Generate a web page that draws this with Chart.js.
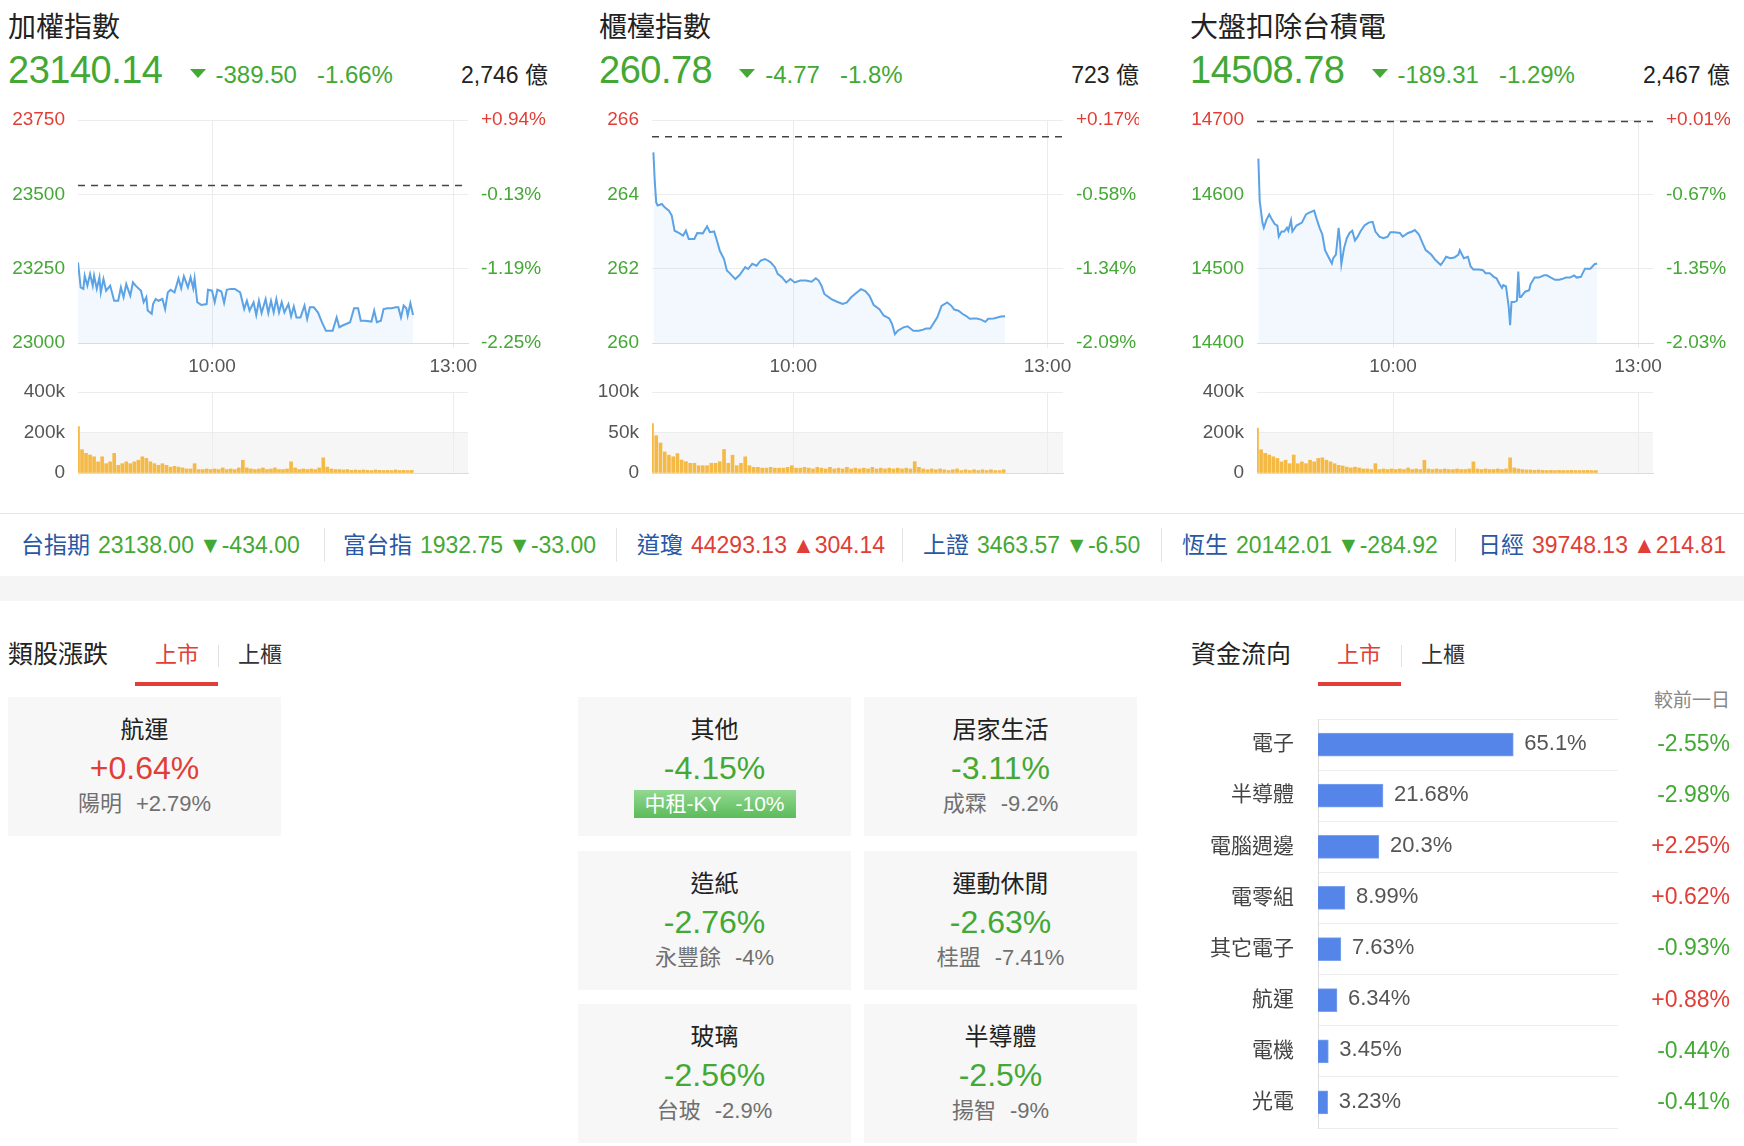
<!DOCTYPE html>
<html lang="zh-Hant">
<head>
<meta charset="utf-8">
<title>大盤走勢</title>
<script src="https://cdn.jsdelivr.net/npm/chart.js@4.4.1/dist/chart.umd.min.js"></script>
<style>
html, body { margin: 0; padding: 0; background: #fff; }
body { position: relative; width: 1744px; height: 1146px; overflow: hidden;
  font-family: "Liberation Sans", "Noto Sans CJK TC", sans-serif; color: #222; }
.abs { position: absolute; }
canvas { position: absolute; }
.green { color: #43a834; }
.red { color: #e03e36; }
.title { position: absolute; left: 0; top: 14px; font-size: 28px; line-height: 28px; white-space: nowrap; }
.quote { position: absolute; left: 0; top: 48px; width: 540px; height: 44px; display: flex; align-items: baseline; white-space: nowrap; }
.quote .big { font-size: 38px; line-height: 44px; letter-spacing: -0.5px; }
.quote .tri { align-self: flex-start; width: 0; height: 0; margin: 21px 0 0 27px;
  border-left: 8px solid transparent; border-right: 8px solid transparent; border-top: 9px solid #43a834; }
.quote .chg { font-size: 24px; margin-left: 10px; }
.quote .pct { font-size: 24px; margin-left: 20px; }
.quote .amt { font-size: 23px; margin-left: auto; color: #222; }
.tick { position: absolute; top: 534px; display: flex; align-items: baseline; font-size: 23px; line-height: 23px; white-space: nowrap; }
.tick .nm { color: #2858a5; margin-right: 8px; }
.tick .vl { margin-right: 5px; }
.sep { position: absolute; top: 528px; width: 1px; height: 34px; background: #e4e4e4; }
.head { position: absolute; top: 642px; font-size: 25px; line-height: 25px; color: #222; white-space: nowrap; }
.tab { position: absolute; top: 644px; font-size: 22px; line-height: 22px; color: #333; white-space: nowrap; }
.tab.on { color: #e03e36; }
.tabsep { position: absolute; top: 645px; width: 1px; height: 22px; background: #e0e0e0; }
.tabline { position: absolute; top: 682px; width: 83px; height: 4px; background: #e03e36; }
.card { position: absolute; width: 273px; height: 139px; background: #f7f7f7; }
.card div { position: absolute; left: 0; right: 0; text-align: center; white-space: nowrap; }
.card .nm { top: 21px; font-size: 24px; line-height: 24px; color: #222; }
.card .pc { top: 55px; font-size: 32px; line-height: 32px; }
.card .sub { top: 96px; font-size: 22px; line-height: 22px; color: #707070; }
.card .sub span { margin-left: 14px; }
.card .badge { top: 93px; left: 50%; right: auto; transform: translateX(-50%); height: 28px; padding: 0 11px;
  line-height: 28px; font-size: 21px; color: #fff; background: linear-gradient(#93d892, #5cbb59); }
.card .badge span { margin-left: 14px; }
</style>
</head>
<body>

<!-- index panels -->
<div class="abs" style="left:8px;top:0;width:540px;height:100px">
  <div class="title">加權指數</div>
  <div class="quote"><span class="big green">23140.14</span><span class="tri"></span><span class="chg green">-389.50</span><span class="pct green">-1.66%</span><span class="amt">2,746 億</span></div>
</div>
<div class="abs" style="left:599px;top:0;width:540px;height:100px">
  <div class="title">櫃檯指數</div>
  <div class="quote"><span class="big green">260.78</span><span class="tri"></span><span class="chg green">-4.77</span><span class="pct green">-1.8%</span><span class="amt">723 億</span></div>
</div>
<div class="abs" style="left:1190px;top:0;width:540px;height:100px">
  <div class="title">大盤扣除台積電</div>
  <div class="quote"><span class="big green">14508.78</span><span class="tri"></span><span class="chg green">-189.31</span><span class="pct green">-1.29%</span><span class="amt">2,467 億</span></div>
</div>

<canvas id="price1" width="540" height="278" style="left:8px;top:102px"></canvas>
<canvas id="vol1" width="540" height="105" style="left:8px;top:380px"></canvas>
<canvas id="price2" width="540" height="278" style="left:599px;top:102px"></canvas>
<canvas id="vol2" width="540" height="105" style="left:599px;top:380px"></canvas>
<canvas id="price3" width="540" height="278" style="left:1190px;top:102px"></canvas>
<canvas id="vol3" width="540" height="105" style="left:1190px;top:380px"></canvas>

<!-- ticker strip -->
<div class="abs" style="left:0;top:513px;width:1744px;height:1px;background:#e6e6e6"></div>
<div class="abs" style="left:0;top:576px;width:1744px;height:25px;background:#f5f5f5"></div>
<div id="ticker"></div>

<!-- sector tabs -->
<div class="head" style="left:8px">類股漲跌</div>
<div class="tab on" style="left:155px">上市</div>
<div class="tabsep" style="left:218px"></div>
<div class="tab" style="left:238px">上櫃</div>
<div class="tabline" style="left:135px"></div>
<div id="cards"></div>

<!-- fund flow -->
<div class="head" style="left:1191px">資金流向</div>
<div class="tab on" style="left:1337px">上市</div>
<div class="tabsep" style="left:1401px"></div>
<div class="tab" style="left:1421px">上櫃</div>
<div class="tabline" style="left:1318px"></div>
<div class="abs" style="right:14px;top:691px;font-size:19px;line-height:19px;color:#888">較前一日</div>
<canvas id="flow" width="560" height="429" style="left:1180px;top:709px"></canvas>

<script>
/******************************************************************
DATA
******************************************************************/

// intraday minutes after midnight and index level
var taiexTimes = [500,502,504,505,507,509,511,512,514,516,517,519,521,524,527,530,532,534,536,539,541,543,547,549,551,552,555,556,558,560,563,565,567,569,572,575,577,579,582,584,586,587,589,592,596,597,600,602,604,607,609,611,614,617,621,624,626,628,631,633,635,637,640,642,644,646,648,650,652,654,657,659,661,663,666,669,671,673,676,679,682,685,688,690,693,695,697,700,703,706,709,711,714,719,721,723,726,728,731,734,737,739,741,743,745,746,748,750];
var taiexValues = [23271,23187,23182,23226,23193,23232,23193,23226,23182,23221,23170,23215,23176,23193,23142,23142,23187,23154,23198,23159,23204,23193,23176,23137,23154,23109,23098,23131,23148,23142,23148,23114,23170,23179,23170,23217,23184,23224,23187,23221,23184,23217,23137,23128,23131,23179,23176,23137,23179,23173,23135,23179,23182,23182,23170,23114,23142,23109,23137,23094,23142,23101,23148,23101,23142,23103,23148,23103,23137,23103,23131,23090,23123,23086,23086,23126,23081,23120,23120,23103,23070,23041,23041,23041,23086,23053,23058,23064,23070,23117,23117,23075,23075,23072,23109,23070,23075,23114,23117,23117,23120,23120,23086,23126,23117,23092,23134,23094];

var otcTimes = [501,502,503,504,507,509,512,514,516,519,522,524,526,530,532,536,539,541,544,546,548,551,553,555,559,562,566,568,571,574,577,580,582,584,587,589,592,595,598,601,605,609,613,616,618,620,622,627,631,635,638,641,645,648,651,654,657,661,664,668,670,672,674,678,681,685,689,692,694,697,699,702,705,709,712,714,717,720,722,725,728,730,733,736,738,742,747,750];
var otcValues = [265.13,264.32,263.78,263.70,263.74,263.65,263.56,263.43,263.02,262.96,262.89,263.02,262.80,262.80,262.96,262.95,263.14,262.98,263.00,262.75,262.48,262.26,261.95,261.88,261.72,261.83,262.04,261.99,262.13,262.08,262.22,262.26,262.22,262.17,262.04,261.86,261.77,261.63,261.72,261.63,261.68,261.68,261.65,261.74,261.68,261.54,261.32,261.18,261.11,261.05,261.09,261.23,261.36,261.45,261.40,261.27,261.02,260.91,260.74,260.66,260.51,260.24,260.33,260.42,260.45,260.33,260.33,260.36,260.39,260.39,260.51,260.69,261.00,261.09,261.00,260.90,260.87,260.78,260.74,260.65,260.66,260.66,260.63,260.57,260.65,260.66,260.71,260.72];

var exTsmcTimes = [501,502,504,505,507,509,511,513,515,516,518,520,522,523,525,526,529,531,533,536,538,542,544,546,548,550,553,555,556,558,560,561,562,564,566,568,570,572,574,576,579,582,585,587,590,593,596,598,601,605,607,611,614,616,619,622,624,628,631,635,637,639,642,645,648,649,652,655,657,659,663,666,668,671,674,676,678,680,681,683,685,686,687,689,691,692,693,694,697,700,701,704,707,711,713,716,719,722,724,727,730,733,735,738,741,744,745,748,750];
var exTsmcValues = [14648,14591,14562,14555,14566,14573,14566,14560,14558,14543,14550,14550,14555,14551,14565,14550,14558,14560,14562,14573,14575,14578,14566,14555,14546,14525,14514,14507,14514,14519,14555,14536,14506,14528,14541,14548,14551,14538,14543,14550,14558,14562,14563,14550,14543,14541,14543,14549,14549,14548,14543,14548,14550,14552,14546,14533,14525,14519,14512,14505,14510,14516,14514,14515,14519,14525,14514,14516,14503,14499,14499,14498,14494,14494,14489,14487,14480,14474,14478,14476,14448,14424,14455,14455,14457,14496,14462,14462,14469,14471,14479,14488,14488,14491,14491,14488,14485,14485,14486,14488,14488,14491,14488,14489,14500,14500,14500,14506,14507];

// previous closes (close minus change)
var taiexPrev = 23529.64;
var otcPrev = 265.55;
var exTsmcPrev = 14698.09;

// axis ticks
var taiexTicks = [23000, 23250, 23500, 23750];
var taiexPct = ['-2.25%', '-1.19%', '-0.13%', '+0.94%'];
var otcTicks = [260, 262, 264, 266];
var otcPct = ['-2.09%', '-1.34%', '-0.58%', '+0.17%'];
var exTsmcTicks = [14400, 14500, 14600, 14700];
var exTsmcPct = ['-2.03%', '-1.35%', '-0.67%', '+0.01%'];
var timeTicks = [600, 780];
var timeLabels = ['10:00', '13:00'];

// volume, thousands of lots per 3-minute bucket from 08:20
var volStart = 500;
var volStep = 3;
var taiexVol = [229,115,97,89,80,55,80,46,55,97,38,46,55,46,55,63,80,72,55,46,38,46,38,29,33,29,25,20,20,46,17,17,20,17,20,17,25,17,20,17,25,63,25,20,17,20,25,17,20,25,17,17,20,55,25,17,20,17,20,17,25,75,29,20,17,17,15,17,13,15,13,15,13,12,15,13,12,13,12,15,12,13,12,13];
var otcVol = [61,46,37,26,22,20,24,16,14,12,12,9,9,9,12,12,14,29,12,22,9,12,20,9,7,7,6,6,7,6,6,6,7,9,6,6,7,6,5,7,6,5,7,5,6,5,7,5,6,5,6,5,7,5,6,5,6,5,6,5,6,5,14,7,5,4,5,4,5,4,3,4,5,3,4,3,4,3,4,3,4,3,3,4];
var exTsmcVol = [222,115,97,89,80,72,55,63,46,89,46,55,46,63,55,72,75,63,55,46,38,35,29,25,29,25,20,20,17,46,17,20,17,20,17,20,17,25,17,20,17,63,20,17,20,17,20,17,17,20,17,17,20,55,20,17,20,17,17,20,17,20,75,25,20,17,15,15,13,15,13,12,13,12,13,12,12,13,12,12,12,13,12,12];
var bigVolTicks = [0, 200, 400];
var bigVolLabels = ['0', '200k', '400k'];
var otcVolTicks = [0, 50, 100];
var otcVolLabels = ['0', '50k', '100k'];

// ticker strip
var tickerNames = ['台指期', '富台指', '道瓊', '上證', '恆生', '日經'];
var tickerValues = ['23138.00', '1932.75', '44293.13', '3463.57', '20142.01', '39748.13'];
var tickerChanges = [-434.00, -33.00, 304.14, -6.50, -284.92, 214.81];

// sector movers
var sectorNames = ['航運', '其他', '居家生活', '造紙', '運動休閒', '玻璃', '半導體'];
var sectorPcts = ['+0.64%', '-4.15%', '-3.11%', '-2.76%', '-2.63%', '-2.56%', '-2.5%'];
var leaderNames = ['陽明', '中租-KY', '成霖', '永豐餘', '桂盟', '台玻', '揚智'];
var leaderPcts = ['+2.79%', '-10%', '-9.2%', '-4%', '-7.41%', '-2.9%', '-9%'];

// fund flow
var flowNames = ['電子', '半導體', '電腦週邊', '電零組', '其它電子', '航運', '電機', '光電'];
var flowShares = [65.1, 21.68, 20.3, 8.99, 7.63, 6.34, 3.45, 3.23];
var flowShareLabels = ['65.1%', '21.68%', '20.3%', '8.99%', '7.63%', '6.34%', '3.45%', '3.23%'];
var flowDiffs = ['-2.55%', '-2.98%', '+2.25%', '+0.62%', '-0.93%', '+0.88%', '-0.44%', '-0.41%'];


/******************************************************************
SETUP
******************************************************************/

var GREEN = '#43a834';
var RED = '#e03e36';
var GRID = '#ececec';
var FONT = '"Liberation Sans", "Noto Sans CJK TC", sans-serif';

Chart.defaults.font.family = FONT;
Chart.defaults.animation = false;
Chart.defaults.devicePixelRatio = 1;

// fixed axis width, no extra padding from tick labels
function fixWidth(w) {
  return function (s) {
    s.width = w;
    s.paddingTop = 0;
    s.paddingBottom = 0;
  };
}

// dashed previous-close line
var prevLine = {
  id: 'prevLine',
  afterDatasetsDraw: function (chart, args, opts) {
    var y = chart.scales.y.getPixelForValue(opts.value);
    var a = chart.chartArea;
    var ctx = chart.ctx;
    ctx.save();
    ctx.setLineDash([7, 6]);
    ctx.strokeStyle = '#444';
    ctx.lineWidth = 1.5;
    ctx.beginPath();
    ctx.moveTo(a.left, y);
    ctx.lineTo(a.right, y);
    ctx.stroke();
    ctx.restore();
  }
};

// grey band on the lower half of the volume pane
var halfBand = {
  id: 'halfBand',
  beforeDraw: function (chart, args, opts) {
    var a = chart.chartArea;
    var top = chart.scales.y.getPixelForValue(opts.value);
    chart.ctx.save();
    chart.ctx.fillStyle = '#f6f6f6';
    chart.ctx.fillRect(a.left, top, a.right - a.left, a.bottom - top);
    chart.ctx.restore();
  }
};

function timeAxis(showLabels) {
  return {
    type: 'linear',
    min: 500,
    max: 791,
    offset: false,
    afterBuildTicks: function (s) { s.ticks = timeTicks.map(function (v) { return { value: v }; }); },
    afterFit: function (s) { s.height = showLabels ? 37 : 0; s.paddingLeft = 0; s.paddingRight = 0; },
    grid: { color: GRID, offset: false, drawTicks: showLabels, tickLength: 5 },
    border: { color: '#dcdcdc' },
    ticks: {
      display: showLabels,
      autoSkip: false,
      maxRotation: 0,
      padding: 7,
      color: '#555',
      font: { size: 19 },
      callback: function (v, i) { return timeLabels[i]; }
    }
  };
}


/******************************************************************
PRICE CHARTS
******************************************************************/

function priceChart(id, times, values, prev, ticks, pcts, leftW, rightW) {
  var pts = times.map(function (t, i) { return { x: t, y: values[i] }; });
  var tickColor = function (c) { return c.tick.value > prev ? RED : GREEN; };
  var setTicks = function (s) { s.ticks = ticks.map(function (v) { return { value: v }; }); };

  return new Chart(document.getElementById(id), {
    type: 'line',
    data: {
      datasets: [{
        data: pts,
        borderColor: '#5ca3e6',
        borderWidth: 2,
        pointRadius: 0,
        tension: 0,
        fill: 'start',
        backgroundColor: 'rgba(92,163,230,0.08)'
      }]
    },
    options: {
      responsive: false,
      layout: { padding: { top: 18, bottom: 0, left: 0, right: 0 } },
      plugins: { legend: { display: false }, tooltip: { enabled: false }, prevLine: { value: prev } },
      scales: {
        x: timeAxis(true),
        y: {
          position: 'left',
          min: ticks[0],
          max: ticks[ticks.length - 1],
          afterBuildTicks: setTicks,
          afterFit: fixWidth(leftW),
          grid: { color: GRID, drawTicks: false },
          border: { display: false },
          ticks: { padding: 13, font: { size: 19 }, color: tickColor, callback: function (v) { return String(v); } }
        },
        y2: {
          position: 'right',
          min: ticks[0],
          max: ticks[ticks.length - 1],
          afterBuildTicks: setTicks,
          afterFit: fixWidth(rightW),
          grid: { display: false, drawTicks: false },
          border: { display: false },
          ticks: { padding: 13, font: { size: 19 }, color: tickColor, callback: function (v, i) { return pcts[i]; } }
        }
      }
    },
    plugins: [prevLine]
  });
} // END PRICECHART FUNCTION

function volumeChart(id, vol, ticks, labels, leftW, rightW) {
  var bars = vol.map(function (k, i) { return { x: volStart + i * volStep, y: k }; });

  return new Chart(document.getElementById(id), {
    type: 'bar',
    data: { datasets: [{ data: bars, backgroundColor: '#f5b945', barThickness: 3 }] },
    options: {
      responsive: false,
      layout: { padding: { top: 12, bottom: 12, left: 0, right: rightW } },
      plugins: { legend: { display: false }, tooltip: { enabled: false }, halfBand: { value: ticks[1] } },
      scales: {
        x: timeAxis(false),
        y: {
          min: ticks[0],
          max: ticks[ticks.length - 1],
          afterBuildTicks: function (s) { s.ticks = ticks.map(function (v) { return { value: v }; }); },
          afterFit: fixWidth(leftW),
          grid: { color: GRID, drawTicks: false },
          border: { display: false },
          ticks: { padding: 13, font: { size: 19 }, color: '#555', callback: function (v, i) { return labels[i]; } }
        }
      }
    },
    plugins: [halfBand]
  });
} // END VOLUMECHART FUNCTION

priceChart('price1', taiexTimes, taiexValues, taiexPrev, taiexTicks, taiexPct, 70, 80);
priceChart('price2', otcTimes, otcValues, otcPrev, otcTicks, otcPct, 53, 76);
priceChart('price3', exTsmcTimes, exTsmcValues, exTsmcPrev, exTsmcTicks, exTsmcPct, 67, 77);
volumeChart('vol1', taiexVol, bigVolTicks, bigVolLabels, 70, 80);
volumeChart('vol2', otcVol, otcVolTicks, otcVolLabels, 53, 76);
volumeChart('vol3', exTsmcVol, bigVolTicks, bigVolLabels, 67, 77);


/******************************************************************
TICKER STRIP
******************************************************************/

var tickerX = [21, 343, 637, 923, 1182, 1478];
var sepX = [324, 616, 902, 1161, 1455];
var tickerHtml = '';

tickerNames.forEach(function (name, i) {
  var c = tickerChanges[i];
  var cls = c < 0 ? 'green' : 'red';
  tickerHtml += '<div class="tick" style="left:' + tickerX[i] + 'px">' +
    '<span class="nm">' + name + '</span>' +
    '<span class="vl ' + cls + '">' + tickerValues[i] + '</span>' +
    '<span class="' + cls + '">' + (c < 0 ? '▼' : '▲') + c.toFixed(2) + '</span></div>';
});
sepX.forEach(function (x) { tickerHtml += '<div class="sep" style="left:' + x + 'px"></div>'; });
document.getElementById('ticker').innerHTML = tickerHtml;


/******************************************************************
SECTOR CARDS
******************************************************************/

var cardX = [8, 578, 864, 578, 864, 578, 864];
var cardY = [697, 697, 697, 851, 851, 1004, 1004];
var cardHtml = '';

sectorNames.forEach(function (name, i) {
  var cls = sectorPcts[i].charAt(0) === '-' ? 'green' : 'red';
  var sub = leaderPcts[i] === '-10%'
    ? '<div class="badge">' + leaderNames[i] + '<span>' + leaderPcts[i] + '</span></div>'
    : '<div class="sub">' + leaderNames[i] + '<span>' + leaderPcts[i] + '</span></div>';
  cardHtml += '<div class="card" style="left:' + cardX[i] + 'px;top:' + cardY[i] + 'px">' +
    '<div class="nm">' + name + '</div>' +
    '<div class="pc ' + cls + '">' + sectorPcts[i] + '</div>' + sub + '</div>';
});
document.getElementById('cards').innerHTML = cardHtml;


/******************************************************************
FUND FLOW BARS
******************************************************************/

var flowLabels = {
  id: 'flowLabels',
  afterDatasetsDraw: function (chart) {
    var ctx = chart.ctx;
    var meta = chart.getDatasetMeta(0);
    ctx.save();
    ctx.textBaseline = 'middle';
    meta.data.forEach(function (bar, i) {
      ctx.font = '22px ' + FONT;
      ctx.textAlign = 'left';
      ctx.fillStyle = '#555';
      ctx.fillText(flowShareLabels[i], bar.x + 11, bar.y - 1);
      ctx.font = '23px ' + FONT;
      ctx.textAlign = 'right';
      ctx.fillStyle = flowDiffs[i].charAt(0) === '-' ? GREEN : RED;
      ctx.fillText(flowDiffs[i], chart.width - 10, bar.y);
    });
    ctx.restore();
  }
};

new Chart(document.getElementById('flow'), {
  type: 'bar',
  data: {
    labels: flowNames,
    datasets: [{ data: flowShares, backgroundColor: '#5585e8', borderColor: '#7ea3ef', borderWidth: 1, barThickness: 23 }]
  },
  options: {
    indexAxis: 'y',
    responsive: false,
    layout: { padding: { top: 10, bottom: 10, left: 0, right: 122 } },
    plugins: { legend: { display: false }, tooltip: { enabled: false } },
    scales: {
      x: { display: false, min: 0, max: 100 },
      y: {
        afterFit: fixWidth(138),
        grid: { color: '#ededed', drawTicks: false, offset: true },
        border: { color: '#dcdcdc' },
        ticks: { padding: 24, color: '#444', font: { size: 21 } }
      }
    }
  },
  plugins: [flowLabels]
});
</script>
</body>
</html>
